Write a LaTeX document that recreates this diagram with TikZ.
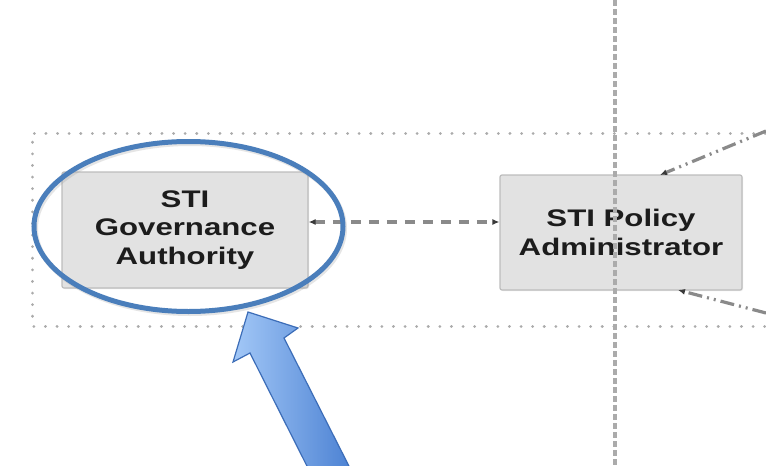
\documentclass[tikz,border=0pt]{standalone}
\usepackage{fontspec}
\newfontfamily\labfont[FakeStretch=1.3]{Liberation Sans}
\usetikzlibrary{arrows.meta,shapes.geometric,shadows}
\definecolor{boxfill}{HTML}{E2E2E2}
\definecolor{boxline}{HTML}{BDBDBD}
\definecolor{txt}{HTML}{1C1C1C}
\definecolor{gridgray}{HTML}{ABABAB}
\definecolor{conn}{HTML}{8A8A8A}
\definecolor{tipc}{HTML}{3A3A3A}
\definecolor{hlblue}{HTML}{4A7EBB}
\definecolor{arrlight}{HTML}{A3C8F7}
\definecolor{arrdark}{HTML}{4A80D2}
\definecolor{arrline}{HTML}{3C6DB8}
\tikzset{
  stibox/.style={draw=boxline, line width=1.2pt, fill=boxfill, rounded corners=2pt,
    font=\labfont\bfseries\fontsize{24}{28.5}\selectfont, text=txt, align=center,
    drop shadow={shadow xshift=1pt, shadow yshift=-1pt, opacity=0.15}},
  zone/.style={draw=gridgray, line width=3pt, dash pattern=on 0.1pt off 11.5pt, line cap=round},
  divider/.style={draw=gridgray, line width=3.2pt, dash pattern=on 6pt off 3pt},
  link/.style={draw=conn, line width=3.2pt, dash pattern=on 10pt off 8pt,
    {Latex[length=7pt,width=6pt,color=tipc]}-{Latex[length=7pt,width=6pt,color=tipc]}},
  feed/.style={draw=conn, line width=3.2pt, dash pattern=on 14pt off 5pt on 2pt off 5pt on 2pt off 5pt,
    -{Latex[length=7pt,width=6pt,color=tipc]}},
  hl/.style={draw=hlblue, line width=5pt, ellipse, minimum width=309pt, minimum height=170pt,
    inner sep=0pt},
}
\begin{document}
\begin{tikzpicture}[x=1pt,y=1pt]
\useasboundingbox (0,0) rectangle (766,-466);
\fill[white] (0,0) rectangle (766,-466);
% dotted zone
\draw[zone] (800,-133) -- (32,-133) -- (32,-326) -- (800,-326);
% boxes
\node[stibox, minimum width=246pt, minimum height=116pt] (gov) at (185,-230) {STI\\Governance\\Authority};
\node[stibox, minimum width=242pt, minimum height=115pt] (pol) at (621,-232.5) {STI Policy\\Administrator};
% vertical divider
\draw[divider] (615,0) -- (615,-466);
% coordinates for incoming arrows
\coordinate (tr) at (766,-131);
\coordinate (br) at (766,-313);
\coordinate (ptop) at (660,-175);
\coordinate (pbot) at (678,-290);
% connectors
\draw[link] (gov.east |- 0,-222) -- (pol.west |- 0,-222);
\draw[feed] (tr) -- (ptop);
\draw[feed] (br) -- (pbot);
% highlight ellipse
\node[hl, drop shadow={shadow xshift=1.5pt, shadow yshift=-2pt, opacity=0.25, fill=none, draw=black!40}] (ring) at (188.5,-226.5) {};
% block arrow
\shade[left color=arrlight, right color=arrdark, draw=arrline, line width=1.2pt, line join=miter]
  (248,-312) -- (298,-328) -- (284,-338) -- (354,-476) -- (312,-476) -- (250,-353) -- (233,-362) -- cycle;
\end{tikzpicture}
\end{document}
